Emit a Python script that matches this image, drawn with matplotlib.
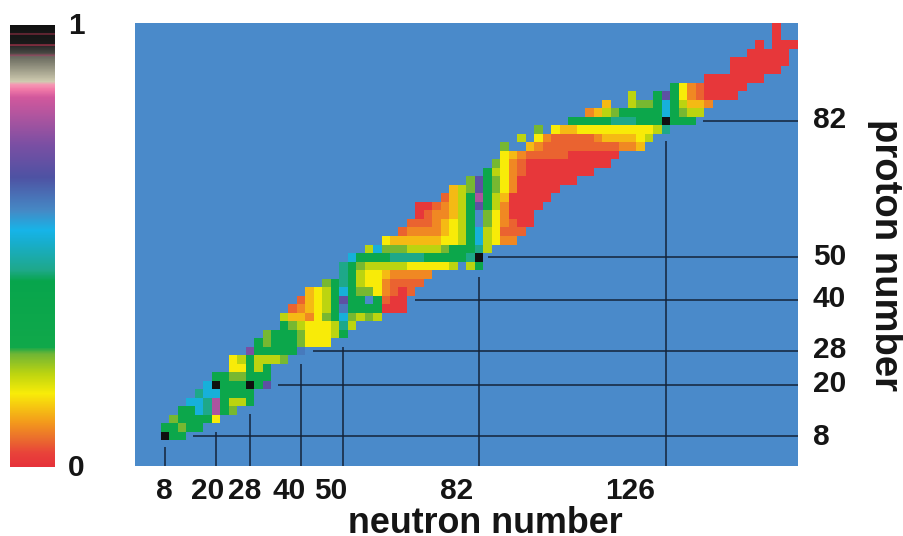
import matplotlib
matplotlib.use('Agg')
import matplotlib.pyplot as plt
from matplotlib.colors import LinearSegmentedColormap
from matplotlib.cm import ScalarMappable
import numpy as np

W, H = 904, 536
BG = '#4a8aca'
FONT = 'Liberation Sans'

# colour scale of the bar, value -> colour
scale_pos = [0.0, 0.03, 0.06, 0.10, 0.165, 0.21, 0.255, 0.27, 0.42, 0.445, 0.51, 0.535,
             0.58, 0.655, 0.73, 0.837, 0.855, 0.866, 0.872, 0.92, 0.928, 0.932, 0.936,
             0.952, 0.955, 0.958, 0.977, 0.98, 0.983, 1.0]
scale_col = ['#e6323a', '#e8423a', '#ea6a2e', '#f39a1c', '#f8ec08', '#bcd410', '#6fb535',
             '#10a84a', '#07a54c', '#1ea88a', '#17aed0', '#16b4e8', '#4589c5', '#4e52a3',
             '#7b4fa3', '#d2589c', '#f27aa8', '#f59bb4', '#cfcbb0', '#78786a', '#6a6a60',
             '#8a4a5e', '#4a4a44', '#2a2a2a', '#a03048', '#1a1a1a', '#161616', '#a03048',
             '#161616', '#101010']

# cell values, one letter per even neutron number
levels = {'r': 0.01, 'R': 0.055, 'o': 0.085, 'a': 0.125, 'y': 0.165, 'v': 0.21, 'l': 0.25,
          'g': 0.34, 't': 0.445, 'c': 0.52, 'b': 0.60, 'p': 0.68, 'P': 0.73, 'm': 0.79,
          'k': 1.0}
proton_rows = list(range(8, 106, 2))
first_neutron = [8, 8, 10, 12, 14, 16, 18, 20, 24, 24, 28, 30, 32, 36, 36, 38, 40, 42, 46, 50,
                 50, 52, 56, 60, 64, 66, 68, 68, 74, 76, 80, 84, 86, 88, 88, 92, 96, 104, 108,
                 112, 118, 128, 136, 142, 142, 146, 148, 152, 152]
row_cells = [
    "kgg", "gglgg", "lggggy", "ggctmgl", "cctmgvvg", "tccgggg", "ckgggkgp", "ggllggg",
    "yygvg", "yvgvvvl", "Pgggggb", "glggglyyy", "lggglyyyvg", "glvyyyvtv", "vaaoylgclvlv",
    "Roayvgbggggrrr", "Rayvgpgg.gRrr", "ayvgcgllyoRrR", "lgtgvyyoRRRR", "tgvyyaooooo",
    "tglvvvvvyyyyyv.vg", "cggggttttgggggtk", "vclllvvvvlgggtv", "yaaaaaayyvgcvyoo",
    "RooooayvgcvyRRR", "RRRoayvg.lyoRrr", "rRooavg.lyorrr", "rrRoavgpgvorrrr",
    "Ravgmgvarrrrr", "avlpglyorrrrr", "lpglyorrrrrrr", "gvyoRrrrrrrrr", "lyoRrrrrrrrrrr",
    "yaoRRRRRrrrrrr", "l..aoRRRRRRRRRooa", "v.yoRRRRRoaaaayv", "l.yaayyyyyyyyyvt",
    "gggggtttgggkggg", "oavlgggggcglvv", "a..vllgcgvaao", "v..gpgyoRrrrr", "gyoRrrrrr",
    "rrrrrrr", "rrrrrr", "rrrrrrr", "rrrrr", "r.rrr", "r", "r",
]

# magic numbers and where their guide lines start
magic_z = [8, 20, 28, 40, 50, 82]
line_start_n = [14.6, 34.6, 42.9, 66.9, 84.1, 134.7]
magic_n = [8, 20, 28, 40, 50, 82, 126]
line_start_z = [5.4, 8.9, 13.2, 24.9, 28.9, 45.4, 77.3]

n_labels = ['8', '20', '28', '40', '50', '82', '126']
n_label_px = [164, 208, 245, 289, 331, 457, 630]
z_labels = ['8', '20', '28', '40', '50', '82']
z_label_py = [437, 384, 350, 299, 257, 120]

n_edges = np.arange(1, 159, 2)
z_edges = np.arange(1, 107, 2)
grid = np.full((len(z_edges) - 1, len(n_edges) - 1), np.nan)
for z, start, cells in zip(proton_rows, first_neutron, row_cells):
    for k, ch in enumerate(cells):
        if ch != '.':
            grid[(z - 2) // 2, (start - 2) // 2 + k] = levels[ch]

cmap = LinearSegmentedColormap.from_list('scale', list(zip(scale_pos, scale_col)), N=1024)
cmap.set_bad(BG)


def px_axes(fig, x0, y0, x1, y1):
    return fig.add_axes([x0 / W, 1 - y1 / H, (x1 - x0) / W, (y1 - y0) / H])


def px_text(fig, x, y, s, size, **kw):
    kw.setdefault('ha', 'center')
    kw.setdefault('va', 'center')
    fig.text(x / W, 1 - y / H, s, fontsize=size, fontweight='bold', color='#151515',
             family=FONT, **kw)


fig = plt.figure(figsize=(W / 100, H / 100), dpi=100)

ax = px_axes(fig, 135.3, 23.2, 797.5, 465.8)
ax.set_facecolor(BG)
ax.pcolormesh(n_edges, z_edges, np.ma.masked_invalid(grid), cmap=cmap, vmin=0, vmax=1,
              antialiased=False, linewidth=0, rasterized=True)
for z, n0 in zip(magic_z, line_start_n):
    ax.plot([n0, 157], [z, z], color='#14233a', lw=1.1, solid_capstyle='butt')
for n, z0 in zip(magic_n, line_start_z):
    ax.plot([n, n], [1, z0], color='#14233a', lw=1.1, solid_capstyle='butt')
ax.set_xlim(1, 157)
ax.set_ylim(1, 105)
ax.set_xticks([])
ax.set_yticks([])
for s in ax.spines.values():
    s.set_visible(False)

# colour bar on the left
cax = px_axes(fig, 10, 25, 55.5, 466.5)
cb = fig.colorbar(ScalarMappable(cmap=cmap), cax=cax)
cb.set_ticks([])
cb.outline.set_visible(False)

for s, x in zip(n_labels, n_label_px):
    px_text(fig, x, 491, s, 21.5)
for s, y in zip(z_labels, z_label_py):
    px_text(fig, 813, y, s, 21.5, ha='left')
px_text(fig, 76, 26, '1', 21.5)
px_text(fig, 76, 468, '0', 21.5)

px_text(fig, 485, 533, 'neutron number', 25.8, va='baseline')
px_text(fig, 875, 255, 'proton number', 27.5, va='baseline', rotation=270,
        rotation_mode='anchor')

fig.savefig('out.png', dpi=100)
